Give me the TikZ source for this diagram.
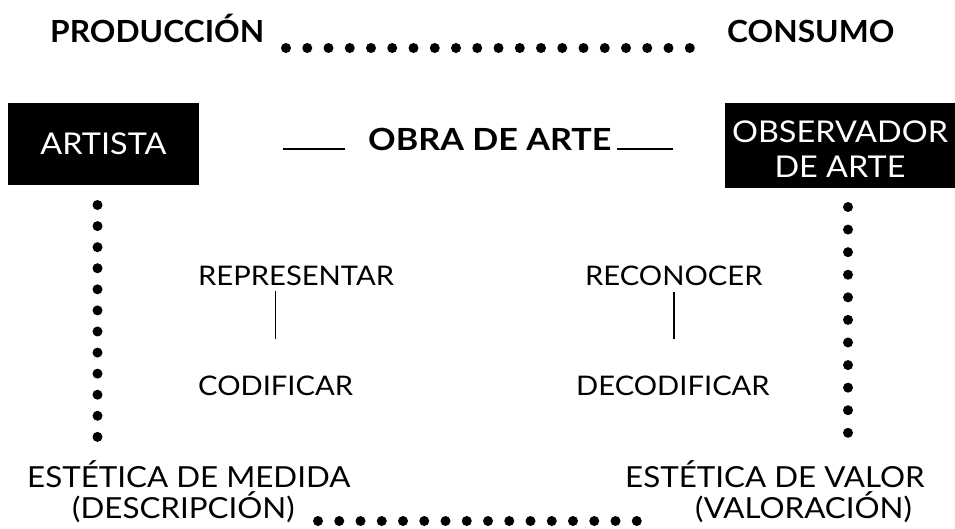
\documentclass[tikz,border=0pt]{standalone}
\usepackage{fontspec}
\newfontfamily\regf{Lato}[FakeStretch=1.08]
\newfontfamily\boldf{Lato}[FakeStretch=1.04]
\newfontfamily\obraf{Lato}[FakeStretch=1.12]
\begin{document}
\begin{tikzpicture}[x=1pt,y=-1pt,
  lbl/.style={inner sep=0pt, font=\regf\fontsize{29}{35}\selectfont},
  midlbl/.style={inner sep=0pt, font=\regf\fontsize{27}{33}\selectfont},
  hdr/.style={inner sep=0pt, font=\boldf\bfseries\fontsize{30.5}{36}\selectfont},
  blackbox/.style={fill=black, text=white, inner sep=0pt, align=center,
                   font=\regf\fontsize{30}{35}\selectfont},
  dotline/.style={line width=10pt, line cap=round, dash pattern=on 0pt off #1},
  rule/.style={line width=1.5pt},
  bar/.style={line width=1.4pt}]
\useasboundingbox (0,0) rectangle (955,528);

% headers
\node[hdr, anchor=base west] (prod) at (50,42) {PRODUCCIÓN};
\node[hdr, anchor=base west] (cons) at (727,42) {CONSUMO};
\coordinate (t1) at (286,48);
\coordinate (t2) at (690,48);
\draw[dotline=21.25pt] (t1) -- (t2);

% boxes
\node[blackbox, minimum width=191pt, minimum height=82pt] (art) at (103.5,144) {ARTISTA};
\node[blackbox, minimum width=230pt, minimum height=85pt] (obs) at (840,145.5)
  {\rule{0pt}{29pt}OBSERVADOR\\DE ARTE};

% obra de arte
\node[hdr, font=\obraf\bfseries\fontsize{30.5}{36}\selectfont, anchor=base west] (obra) at (368,150) {OBRA DE ARTE};
\coordinate (o1) at (283,149);
\coordinate (o2) at (345,149);
\coordinate (o3) at (617,149);
\coordinate (o4) at (673,149);
\draw[rule] (o1) -- (o2);
\draw[rule] (o3) -- (o4);

% vertical dotted columns
\coordinate (l1) at (97.5,205);
\coordinate (l2) at (97.5,437);
\draw[dotline=21.08pt] (l1) -- (l2);
\coordinate (r1) at (848,207);
\coordinate (r2) at (848,433);
\draw[dotline=22.58pt] (r1) -- (r2);

% middle
\node[midlbl, anchor=base west] (rep) at (198,285) {REPRESENTAR};
\node[midlbl, anchor=base west] (cod) at (198,395) {CODIFICAR};
\draw[bar] ([yshift=-6pt]cod.north |- rep.south) -- ([yshift=36pt]cod.north);
\node[midlbl, anchor=base west] (rec) at (585,285) {RECONOCER};
\node[midlbl, anchor=base west] (dec) at (576,395) {DECODIFICAR};
\draw[bar] ([yshift=-7pt]rec.south) -- ([yshift=36pt]rec.south |- dec.north);

% bottom
\node[lbl, anchor=base west] (med) at (27,487) {ESTÉTICA DE MEDIDA};
\node[lbl, anchor=base west] (desc) at (72,518) {(DESCRIPCIÓN)};
\node[lbl, anchor=base west] (val) at (625,487) {ESTÉTICA DE VALOR};
\node[lbl, anchor=base west] (valo) at (695,518) {(VALORACIÓN)};
\coordinate (b1) at (318,521);
\coordinate (b2) at (637,521);
\draw[dotline=21.25pt] (b1) -- (b2);
\end{tikzpicture}
\end{document}
